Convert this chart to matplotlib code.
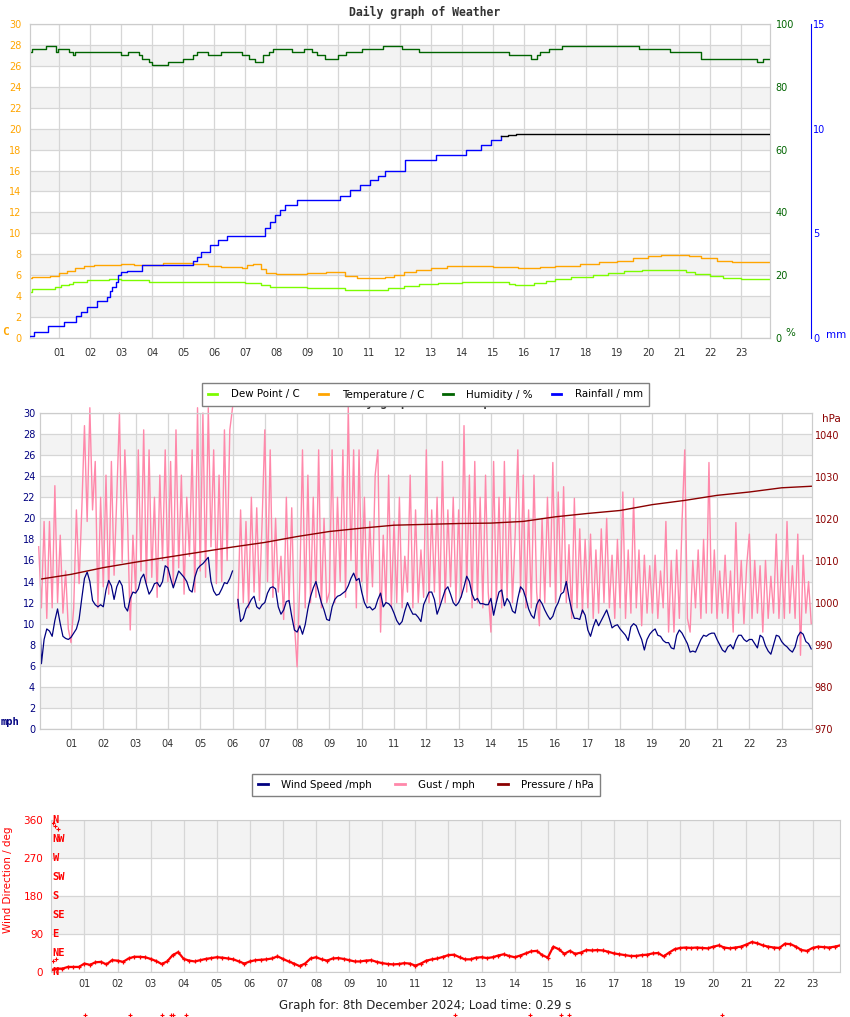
import numpy as np
import matplotlib
matplotlib.use('Agg')
import matplotlib.pyplot as plt
from matplotlib.lines import Line2D
import matplotlib.transforms as mtransforms

W, H = 850, 1017

# ---------------- top chart (step points: hour, value) ----------------
hum_hours = [0.05, 0.1, 0.55, 0.9, 0.95, 1.3, 1.45, 1.5, 3.0, 3.2, 3.55, 3.65, 3.9, 4.0,
             4.5, 5.0, 5.3, 5.45, 5.8, 6.2, 6.9, 7.1, 7.3, 7.55, 7.75, 7.9, 8.5, 8.9,
             9.15, 9.3, 9.55, 10.0, 10.25, 10.75, 11.45, 12.05, 12.6, 15.5, 16.2, 16.4,
             16.5, 16.8, 17.2, 19.7, 20.7, 21.7, 23.5, 23.7, 23.92]
hum_vals = [91, 92, 93, 91, 92, 91, 90, 91, 90, 91, 90, 89, 88, 87,
            88, 89, 90, 91, 90, 91, 90, 89, 88, 90, 91, 92, 91, 92,
            91, 90, 89, 90, 91, 92, 93, 92, 91, 90, 89, 90,
            91, 92, 93, 92, 91, 89, 88, 89, 89]

temp_hours = [0.05, 0.1, 0.7, 1.0, 1.25, 1.5, 1.8, 2.1, 3.0, 3.4, 4.35, 5.3, 5.8, 6.2, 6.9,
              7.05, 7.25, 7.5, 7.65, 8.0, 9.0, 9.6, 10.2, 10.6, 11.5, 11.8, 12.1, 12.5,
              13.0, 13.5, 15.0, 15.8, 16.5, 17.0, 17.8, 18.4, 19.0, 19.5, 20.0, 20.4,
              21.3, 21.7, 22.2, 22.7, 23.92]
temp_vals = [5.7, 5.8, 5.95, 6.2, 6.4, 6.7, 6.9, 7.0, 7.1, 6.95, 7.2, 7.1, 6.9, 6.8, 6.7,
             7.0, 7.1, 6.6, 6.2, 6.1, 6.2, 6.3, 5.9, 5.7, 5.8, 6.0, 6.3, 6.5,
             6.7, 6.9, 6.8, 6.7, 6.8, 6.9, 7.1, 7.3, 7.4, 7.6, 7.8, 7.9,
             7.8, 7.6, 7.4, 7.3, 7.3]

dew_hours = [0.05, 0.1, 0.85, 1.05, 1.3, 1.45, 1.9, 2.6, 3.0, 3.9, 7.0, 7.5, 7.8, 9.0, 9.6,
             10.2, 11.3, 11.6, 12.1, 12.6, 13.2, 14.0, 15.5, 15.7, 16.3, 16.7, 17.0, 17.5,
             18.2, 18.7, 19.2, 19.8, 20.5, 21.2, 21.5, 22.0, 22.4, 23.0, 23.92]
dew_vals = [4.4, 4.65, 4.85, 5.05, 5.2, 5.35, 5.5, 5.65, 5.5, 5.35, 5.3, 5.1, 4.9, 4.8, 4.75,
            4.6, 4.55, 4.8, 5.0, 5.15, 5.3, 5.35, 5.2, 5.05, 5.25, 5.4, 5.6, 5.8,
            6.0, 6.2, 6.4, 6.5, 6.5, 6.3, 6.1, 5.9, 5.7, 5.6, 5.6]

rain_hours = [0.05, 0.19, 0.63, 1.16, 1.53, 1.68, 1.9, 2.2, 2.54, 2.63, 2.7, 2.81, 2.9, 3.0,
              3.19, 3.65, 5.32, 5.45, 5.55, 5.85, 6.1, 6.4, 7.62, 7.78, 7.95, 8.11, 8.27,
              8.66, 10.06, 10.38, 10.7, 11.03, 11.29, 11.51, 12.16, 13.14, 14.11, 14.6,
              14.92, 15.24, 15.47, 15.73, 23.92]
rain_vals = [0.1, 0.27, 0.56, 0.75, 1.07, 1.26, 1.47, 1.75, 1.97, 2.26, 2.45, 2.66, 3.0, 3.17,
             3.2, 3.49, 3.66, 3.86, 4.11, 4.44, 4.68, 4.87, 5.26, 5.54, 5.88, 6.12, 6.35,
             6.59, 6.78, 7.07, 7.31, 7.55, 7.74, 7.98, 8.5, 8.74, 8.98, 9.22,
             9.46, 9.65, 9.7, 9.75, 9.75]
rain_black_from = 15.24   # the rain line is drawn black from here on

# ---------------- middle chart (5 minute samples) ----------------
nan = np.nan
wind_speed = [
    13.5, 6.2, 8.5, 9.5, 9.3, 8.8, 10.3, 11.4, 10.0, 8.8, 8.6, 8.5,
    8.7, 9.1, 9.5, 10.4, 12.4, 14.3, 14.9, 14.0, 12.2, 11.8, 11.6, 11.8,
    11.6, 13.2, 14.1, 13.6, 12.3, 13.5, 14.1, 13.6, 11.6, 11.2, 12.4, 13.0,
    12.9, 13.3, 14.3, 14.7, 13.7, 12.8, 13.2, 13.8, 13.9, 13.5, 14.0, 15.5,
    15.3, 14.3, 13.4, 14.2, 15.0, 14.7, 14.4, 14.0, 13.2, 13.0, 14.4, 15.2,
    15.5, 15.7, 16.0, 16.3, 14.0, 13.1, 12.7, 12.8, 13.3, 13.9, 13.8, 14.3,
    15.0, nan, 12.3, 10.2, 10.5, 11.4, 11.8, 12.3, 12.6, 11.6, 11.4, 11.8,
    12.0, 12.9, 13.4, 13.5, 13.3, 11.6, 10.9, 11.3, 12.1, 12.2, 10.7, 9.4,
    9.2, 9.8, 9.0, 9.9, 11.4, 12.6, 13.4, 14.0, 13.0, 12.0, 11.3, 10.4,
    10.3, 11.6, 12.3, 12.6, 12.7, 12.9, 13.1, 13.6, 14.3, 14.8, 14.1, 14.3,
    13.0, 12.0, 11.5, 11.6, 11.3, 11.5, 12.3, 12.9, 11.6, 12.0, 11.9, 11.6,
    11.0, 10.3, 9.9, 10.2, 11.2, 12.0, 11.4, 10.9, 10.9, 10.6, 10.2, 11.8,
    12.4, 13.0, 13.0, 12.3, 10.9, 11.6, 12.4, 13.2, 13.5, 12.8, 12.0, 11.7,
    12.0, 12.6, 13.5, 14.5, 14.0, 12.8, 12.2, 12.4, 11.9, 11.9, 11.8, 11.8,
    12.4, 10.8, 12.0, 13.0, 13.2, 11.7, 12.4, 12.0, 11.2, 11.0, 12.4, 13.5,
    13.2, 12.4, 11.4, 10.8, 10.5, 11.8, 12.3, 11.9, 11.3, 10.8, 10.4, 10.7,
    11.5, 12.0, 12.8, 13.0, 14.0, 12.5, 11.3, 10.5, 10.5, 10.4, 11.3, 10.8,
    9.4, 8.8, 9.7, 10.4, 9.8, 10.3, 10.8, 11.3, 10.5, 9.6, 9.8, 9.9,
    9.5, 9.2, 8.9, 8.4, 9.7, 10.0, 9.8, 9.1, 8.5, 7.5, 8.5, 9.0,
    9.3, 9.5, 8.9, 8.8, 8.4, 8.2, 8.2, 7.7, 7.6, 8.9, 9.4, 9.1,
    8.6, 8.1, 7.3, 7.4, 7.3, 7.9, 8.5, 8.9, 8.8, 9.0, 9.1, 9.1,
    8.5, 8.0, 7.5, 7.3, 7.8, 8.0, 7.6, 8.4, 8.9, 8.9, 8.5, 8.3,
    8.5, 8.5, 8.1, 7.7, 8.9, 8.7, 7.9, 7.4, 7.1, 8.0, 8.9, 8.8,
    8.3, 8.0, 7.8, 7.5, 7.3, 7.8, 8.8, 9.2, 9.0, 8.3, 8.1, 7.6]

gust = [
    17.3, 11.5, 19.7, 10.5, 19.7, 11.5, 23.1, 12.0, 18.4, 11.0, 15.0, 9.5,
    8.2, 11.5, 20.8, 13.8, 20.8, 28.8, 19.7, 30.5, 20.8, 25.4, 11.5, 22.0,
    13.5, 24.1, 12.8, 25.4, 14.6, 22.0, 30.0, 15.8, 26.5, 20.0, 9.4, 18.4,
    13.0, 26.5, 15.0, 28.4, 13.8, 26.5, 14.4, 22.0, 12.5, 24.1, 16.0, 26.5,
    14.0, 25.4, 13.5, 28.4, 15.3, 24.1, 12.8, 22.0, 16.4, 26.5, 13.0, 30.5,
    15.0, 30.0, 14.4, 30.5, 17.3, 26.5, 13.8, 24.1, 14.0, 28.4, 16.0, 28.4,
    30.5, nan, 11.5, 20.8, 12.0, 19.7, 11.5, 22.0, 13.0, 21.0, 12.2, 19.7,
    28.4, 14.0, 26.5, 12.5, 20.0, 13.0, 16.4, 10.4, 22.0, 12.0, 21.0, 10.0,
    5.9, 14.0, 26.5, 11.5, 24.1, 12.0, 22.0, 12.5, 26.5, 11.5, 20.0, 12.0,
    13.0, 26.5, 12.0, 22.0, 14.0, 26.5, 12.5, 30.6, 16.0, 26.5, 11.5, 26.5,
    14.0, 22.0, 12.0, 19.7, 13.5, 24.1, 26.5, 9.2, 18.4, 12.0, 24.1, 11.5,
    19.7, 12.0, 22.0, 11.5, 16.4, 13.0, 24.1, 11.5, 20.8, 12.0, 17.0, 12.5,
    26.5, 12.0, 20.8, 13.0, 22.0, 11.8, 25.4, 12.0, 20.8, 13.5, 22.0, 12.0,
    20.8, 12.5, 28.8, 13.0, 24.1, 11.5, 25.4, 12.0, 22.0, 11.5, 24.1, 13.0,
    9.2, 25.4, 12.0, 22.0, 11.5, 25.4, 12.5, 22.0, 12.0, 18.4, 26.5, 13.0,
    24.1, 11.5, 20.8, 11.5, 24.1, 13.0, 9.8, 20.0, 12.0, 22.0, 13.5, 25.3,
    12.0, 22.5, 13.0, 23.0, 12.0, 17.5, 10.5, 21.9, 11.5, 19.0, 11.0, 18.0,
    11.5, 18.5, 10.5, 17.0, 11.0, 19.0, 12.0, 20.0, 11.5, 16.5, 10.5, 18.0,
    11.5, 22.5, 10.5, 17.0, 11.0, 21.9, 11.5, 17.0, 9.8, 16.5, 11.0, 15.5,
    11.0, 16.5, 10.5, 15.0, 11.5, 19.7, 9.2, 16.0, 9.2, 17.0, 10.5, 19.7,
    26.5, 10.5, 9.2, 16.0, 11.5, 17.0, 10.5, 18.0, 11.0, 25.3, 11.0, 17.0,
    10.5, 15.0, 11.0, 16.5, 10.5, 15.0, 9.2, 19.6, 11.0, 16.0, 10.0, 15.5,
    18.5, 10.5, 16.0, 11.0, 15.5, 9.2, 16.0, 10.5, 14.5, 11.0, 18.5, 10.5,
    16.0, 10.5, 19.7, 11.0, 15.5, 10.5, 18.5, 7.0, 16.5, 11.0, 14.0, 10.0]

pressure_hours = list(range(25))
pressure = [1005.6, 1006.8, 1008.4, 1009.7, 1010.9, 1012.1, 1013.3, 1014.4, 1015.8,
            1017.0, 1017.8, 1018.5, 1018.7, 1018.9, 1019.0, 1019.4, 1020.5, 1021.3,
            1022.0, 1023.4, 1024.4, 1025.6, 1026.4, 1027.4, 1027.8]

# ---------------- bottom chart (10 minute samples) ----------------
wind_dir = [
    5, 8, 8, 12, 12, 12, 20, 17, 23, 24, 18, 28,
    27, 24, 32, 36, 36, 35, 31, 26, 19, 25, 40, 47,
    31, 27, 25, 28, 31, 33, 35, 34, 32, 30, 25, 20,
    25, 28, 29, 30, 32, 37, 31, 25, 20, 14, 20, 32,
    35, 30, 27, 32, 33, 31, 28, 25, 25, 27, 28, 24,
    21, 19, 18, 19, 21, 20, 15, 20, 27, 30, 32, 36,
    40, 41, 35, 30, 30, 34, 35, 33, 35, 39, 42, 38,
    35, 39, 44, 49, 50, 40, 34, 60, 54, 43, 50, 43,
    46, 52, 51, 52, 51, 48, 44, 42, 40, 38, 38, 40,
    41, 44, 45, 37, 46, 54, 57, 58, 57, 58, 57, 56,
    60, 63, 58, 56, 58, 60, 65, 71, 68, 63, 60, 58,
    57, 67, 66, 60, 52, 50, 57, 60, 59, 58, 60, 63]

# odd readings that fall far from the trace
stray_hours = [0.06, 0.12, 0.2, 0.04, 0.15, 1.03, 2.39, 3.35, 3.61, 3.68, 4.07,
               12.2, 14.45, 15.39, 15.64, 20.26]
stray_dir = [352, 345, 338, 25, 30, -102, -102, -102, -102, -102, -102,
             -102, -102, -102, -102, -102]

hour_ticks = list(range(1, 24))
hour_labels = ['%02d' % h for h in hour_ticks]
compass = ['N', 'NE', 'E', 'SE', 'S', 'SW', 'W', 'NW', 'N']

GRID = '#d6d6d6'
BAND = '#f3f3f3'
SPINE = '#cccccc'
TXT = '#333333'
MONO = 'DejaVu Sans Mono'


def box(l, t, r, b):
    return [l / W, 1 - b / H, (r - l) / W, (b - t) / H]


def fx(px):
    return px / W


def fy(py):
    return 1 - py / H


def base_axes(ax, ymax, ystep, grey):
    for y0 in grey:
        ax.axhspan(y0, y0 + ystep, color=BAND, lw=0, zorder=0)
    ax.set_ylim(0, ymax)
    ax.set_xticks(hour_ticks)
    ax.set_xticklabels(hour_labels)
    ax.grid(True, color=GRID, lw=0.9)
    ax.set_axisbelow(True)
    for s in ax.spines.values():
        s.set_color(SPINE)
    ax.tick_params(axis='both', length=0, labelsize=7)
    ax.tick_params(axis='x', colors=TXT)


def add_legend(handles, labels, cx, cy, ncol, colsp):
    fig.legend(handles, labels, loc='center', bbox_to_anchor=(fx(cx), fy(cy)), ncol=ncol,
               fontsize=7.4, frameon=True, fancybox=False, edgecolor='#808080',
               framealpha=1, handlelength=0.9, handletextpad=1.3, columnspacing=colsp,
               borderpad=0.6, borderaxespad=0)


fig = plt.figure(figsize=(W / 100, H / 100), dpi=100)

# ======== top: weather ========
ax1 = fig.add_axes(box(30, 24, 770, 338))
base_axes(ax1, 30, 2, range(2, 30, 4))
ax1.set_xlim(0.05, 23.92)
ax1.set_yticks(range(0, 31, 2))
ax1.tick_params(axis='y', colors='#FFA500', pad=6)
ax1.tick_params(axis='x', pad=7)
ax1.plot(dew_hours, dew_vals, color='#7CFC00', lw=1, drawstyle='steps-post')
ax1.plot(temp_hours, temp_vals, color='#FFA500', lw=1, drawstyle='steps-post')

ax1h = ax1.twinx()
ax1h.set_ylim(0, 100)
ax1h.set_yticks(range(0, 101, 20))
ax1h.tick_params(axis='y', colors='#006400', length=0, labelsize=7, pad=4)
for s in ax1h.spines.values():
    s.set_color(SPINE)
ax1h.plot(hum_hours, hum_vals, color='#006400', lw=1, drawstyle='steps-post')

ax1r = ax1.twinx()
ax1r.set_ylim(0, 15)
ax1r.set_yticks([0, 5, 10, 15])
ax1r.spines['right'].set_position(('outward', 29.5))
ax1r.spines['right'].set_color('#0000FF')
for k in ['left', 'top', 'bottom']:
    ax1r.spines[k].set_visible(False)
ax1r.tick_params(axis='y', colors='#0000FF', length=0, labelsize=7, pad=1.5)
rh = np.array(rain_hours)
rv = np.array(rain_vals)
blue = rh <= rain_black_from
black = rh >= rain_black_from
ax1r.plot(rh[blue], rv[blue], color='#0000FF', lw=1, drawstyle='steps-post')
ax1r.plot(rh[black], rv[black], color='black', lw=1, drawstyle='steps-post')

fig.text(fx(425), fy(12), 'Daily graph of Weather', ha='center', va='center',
         family=MONO, weight='bold', size=8.3, color=TXT)
fig.text(fx(2), fy(332), 'C', ha='left', va='center', family=MONO, weight='bold',
         size=8, color='#FFA500')
fig.text(fx(785), fy(333), '%', ha='left', va='center', size=7.5, color='#006400')
fig.text(fx(826), fy(335), 'mm', ha='left', va='center', size=7.5, color='#0000FF')

leg1 = [Line2D([], [], color='#7CFC00', lw=2),
        Line2D([], [], color='#FFA500', lw=2),
        Line2D([], [], color='#006400', lw=2),
        Line2D([], [], color='#0000FF', lw=2)]
# title of the middle chart, mostly hidden behind the legend
fig.text(fx(425), fy(402), 'Daily graph of Wind Speed', ha='center', va='center',
         family=MONO, weight='bold', size=8.3, color=TXT, zorder=1)
add_legend(leg1, ['Dew Point / C', 'Temperature / C', 'Humidity / %', 'Rainfall / mm'],
           425.5, 394.5, 4, 1.9)

# ======== middle: wind speed and pressure ========
t5 = np.arange(len(wind_speed)) / 12.0
ax2 = fig.add_axes(box(40, 413, 812, 729))
base_axes(ax2, 30, 2, range(2, 30, 4))
ax2.set_xlim(0.04, 23.94)
ax2.set_yticks(range(0, 31, 2))
ax2.tick_params(axis='y', colors='#000080', pad=3.5)
ax2.tick_params(axis='x', pad=7)
ax2.plot(t5, gust, color='#ff88aa', lw=1, clip_on=False)
ax2.plot(t5, wind_speed, color='#000080', lw=0.9)

ax2p = ax2.twinx()
ax2p.set_ylim(970, 1045.2)
ax2p.set_yticks(range(970, 1041, 10))
ax2p.tick_params(axis='y', colors='#8B0000', length=0, labelsize=7, pad=2)
for s in ax2p.spines.values():
    s.set_color(SPINE)
ax2p.plot(pressure_hours, pressure, color='#8B0000', lw=1)

fig.text(fx(1), fy(722), 'mph', ha='left', va='center', family=MONO, weight='bold',
         size=7.5, color='#000080')
fig.text(fx(822), fy(419), 'hPa', ha='left', va='center', size=7.5, color='#8B0000')

leg2 = [Line2D([], [], color='#000080', lw=2),
        Line2D([], [], color='#ff88aa', lw=2),
        Line2D([], [], color='#8B0000', lw=2)]
add_legend(leg2, ['Wind Speed /mph', 'Gust / mph', 'Pressure / hPa'], 426, 785, 3, 2.3)

# ======== bottom: wind direction ========
t10 = np.arange(len(wind_dir)) / 6.0
ax3 = fig.add_axes(box(51, 820, 840, 972))
base_axes(ax3, 360, 90, [90, 270])
ax3.set_xlim(-0.01, 23.83)
ax3.set_yticks(range(0, 361, 90))
ax3.tick_params(axis='y', colors='#FF0000', pad=5.5, labelsize=7.5)
ax3.tick_params(axis='x', pad=5)
ax3.plot(t10, wind_dir, color='#FF0000', lw=1.6, marker='+', ms=3.5, mew=0.9)
ax3.plot(stray_hours, stray_dir, '+', color='#FF0000', ms=3, mew=0.8, clip_on=False)
trans = mtransforms.blended_transform_factory(ax3.transAxes, ax3.transData)
for i, lab in enumerate(compass):
    ax3.text(0.002, i * 45, lab, transform=trans, ha='left', va='center',
             family=MONO, weight='bold', size=7.5, color='#FF0000')
fig.text(fx(8), fy(880), 'Wind Direction / deg', rotation=90, ha='center', va='center',
         size=7.5, color='#FF0000')

fig.text(fx(425), fy(1005), 'Graph for: 8th December 2024; Load time: 0.29 s',
         ha='center', va='center', size=8.5, color='#222222',
         family=['Liberation Sans Narrow', 'DejaVu Sans'])

fig.savefig('out.png', dpi=100)
